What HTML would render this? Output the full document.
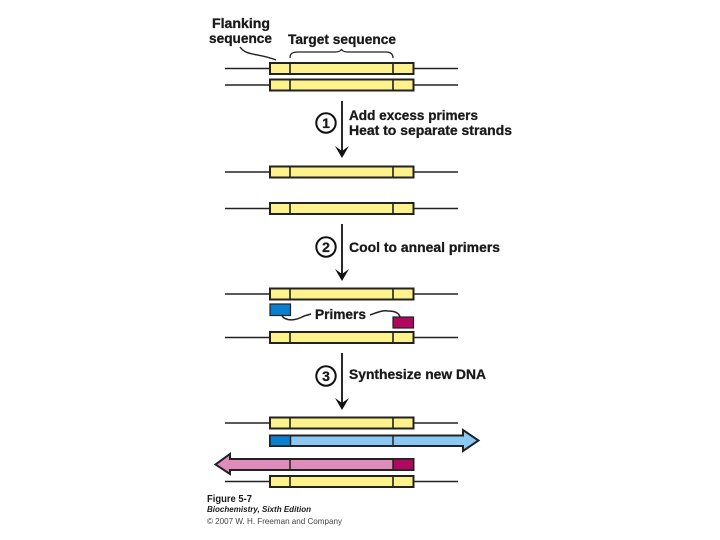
<!DOCTYPE html>
<html><head><meta charset="utf-8"><style>
html,body{margin:0;padding:0;background:#fff;width:720px;height:540px;overflow:hidden}
svg{display:block;filter:blur(.35px)}
text{font-family:"Liberation Sans",sans-serif;font-weight:bold;fill:#1a1a1a}
.h{stroke:#1a1a1a;stroke-width:.3px}
</style></head><body>
<svg width="720" height="540" viewBox="0 0 720 540" xmlns="http://www.w3.org/2000/svg">
<defs>
<g id="s">
<path d="M225 0H270M414 0H458" stroke="#222" stroke-width="1.600" fill="none"/>
<rect x="270" y="-5.500" width="143.500" height="11" fill="#fdf28c" stroke="#222" stroke-width="2"/>
<path d="M290 -5.500V5.500M393 -5.500V5.500" stroke="#222" stroke-width="1.600"/>
</g>
</defs>
<use href="#s" y="68.500"/>
<use href="#s" y="85"/>
<use href="#s" y="172"/>
<use href="#s" y="208.500"/>
<use href="#s" y="294"/>
<use href="#s" y="337.500"/>
<use href="#s" y="423"/>
<use href="#s" y="481.500"/>

<!-- labels top -->
<text class="h" x="212" y="28" font-size="14" textLength="58" lengthAdjust="spacingAndGlyphs">Flanking</text>
<text class="h" x="209" y="43" font-size="14" textLength="63" lengthAdjust="spacingAndGlyphs">sequence</text>
<text class="h" x="288" y="44" font-size="14" textLength="108" lengthAdjust="spacingAndGlyphs">Target sequence</text>
<path d="M240 47C246 56 258 53 276 60" fill="none" stroke="#222" stroke-width="1.400"/>
<path d="M290 58C290 53 293 52 298 52H335C339 52 341 51 341.500 49C342 51 344 52 348 52H386C391 52 393 54 393 58" fill="none" stroke="#222" stroke-width="1.300"/>

<!-- arrows -->
<g fill="none" stroke="#111" stroke-width="1.800">
<path d="M342 101V156"/>
<path d="M342 224V279"/>
<path d="M342 353V408"/>
<circle cx="326" cy="123" r="9.700" stroke-width="2"/>
<circle cx="326" cy="247" r="9.700" stroke-width="2"/>
<circle cx="326" cy="376" r="9.700" stroke-width="2"/>
</g>
<g fill="#111">
<path d="M342 158L335 146L342 151L349 146Z"/>
<path d="M342 281L335 269L342 274L349 269Z"/>
<path d="M342 410L335 398L342 403L349 398Z"/>
</g>
<g font-size="14" text-anchor="middle">
<text class="h" x="326" y="128">1</text>
<text class="h" x="326" y="252">2</text>
<text class="h" x="326" y="381">3</text>
</g>

<text class="h" x="349" y="120" font-size="14" textLength="129" lengthAdjust="spacingAndGlyphs">Add excess primers</text>
<text class="h" x="349" y="135" font-size="14" textLength="163" lengthAdjust="spacingAndGlyphs">Heat to separate strands</text>
<text class="h" x="349" y="252" font-size="14" textLength="151" lengthAdjust="spacingAndGlyphs">Cool to anneal primers</text>
<text class="h" x="315" y="319" font-size="14" textLength="51" lengthAdjust="spacingAndGlyphs">Primers</text>
<text class="h" x="349" y="379" font-size="14" textLength="137" lengthAdjust="spacingAndGlyphs">Synthesize new DNA</text>

<!-- primers -->
<rect x="270" y="304" width="20.500" height="11.500" fill="#0a7fd0" stroke="#222" stroke-width="1.200"/>
<rect x="393" y="317" width="20.500" height="11" fill="#b0085f" stroke="#222" stroke-width="1.200"/>
<path d="M282 316C287 322 296 320 302 317C305 315.500 308 315 311 314" fill="none" stroke="#222" stroke-width="1.500"/>
<path d="M370 315C376 313 382 310 388 311C395 311 399 313 400 317" fill="none" stroke="#222" stroke-width="1.500"/>

<!-- new strands -->
<path d="M270 435.500H463V430L478.500 440.500L463 451V446H270Z" fill="#8cc8f4" stroke="#222" stroke-width="2"/>
<rect x="270" y="435.500" width="20.500" height="10.500" fill="#0a7fd0" stroke="#222" stroke-width="1.500"/>
<path d="M393 435.500V446" stroke="#222" stroke-width="1.500"/>
<path d="M413.500 459H230V454L215.500 464.500L230 474V470H413.500Z" fill="#e08cba" stroke="#222" stroke-width="2"/>
<rect x="393" y="459" width="20.500" height="11" fill="#b0085f" stroke="#222" stroke-width="1.500"/>
<path d="M290 459V470" stroke="#222" stroke-width="1.500"/>

<!-- caption -->
<text x="207" y="502" font-size="10.500" textLength="45" lengthAdjust="spacingAndGlyphs">Figure 5-7</text>
<text x="207" y="512" font-size="8.500" font-style="italic" textLength="104" lengthAdjust="spacingAndGlyphs">Biochemistry, Sixth Edition</text>
<text x="207" y="524" font-size="8.500" style="font-weight:normal;fill:#444" textLength="135" lengthAdjust="spacingAndGlyphs">© 2007 W. H. Freeman and Company</text>
</svg>
</body></html>
